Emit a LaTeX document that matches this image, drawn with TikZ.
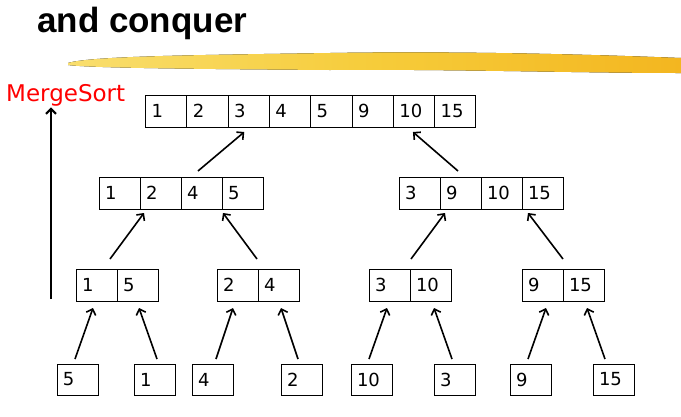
\documentclass[tikz,border=0pt]{standalone}
\usepackage{fontspec}
\setmainfont{DejaVu Sans}
\newfontfamily\titlefont{Liberation Sans}
\usetikzlibrary{arrows.meta,positioning}

\definecolor{brushA}{HTML}{F9DE6E}
\definecolor{brushB}{HTML}{F6CC3A}
\definecolor{brushC}{HTML}{F3B620}

\tikzset{
  cell/.style={draw, line width=1pt, outer sep=0pt, minimum height=32pt,
    inner xsep=6pt, inner ysep=0pt, text width=29pt, align=left,
    font=\fontsize{18}{18}\selectfont},
  topcell/.style={cell, text width=29.3pt},
  arr/.style={-{Straight Barb[length=5pt,width=10pt]}, line width=1.6pt}
}

\begin{document}
\begin{tikzpicture}[x=1pt,y=-1pt]
\useasboundingbox (0,0) rectangle (681,416);

% Title and brush stroke
\node[anchor=base west, inner sep=0pt, font=\titlefont\bfseries\fontsize{35}{40}\selectfont] (title) at (37,32) {and conquer};
\fill[left color=brushA, right color=brushC, middle color=brushB]
  (68,63) .. controls (90,56) and (200,55) .. (330,53)
  .. controls (450,51) and (580,54) .. (681,58) -- (681,73)
  .. controls (580,73) and (450,69) .. (330,70)
  .. controls (200,69) and (90,68) .. (68,65) -- cycle;

% MergeSort direction
\node[anchor=base west, inner sep=0pt, text=red, font=\fontsize{23}{23}\selectfont] (ms) at (6,101) {MergeSort};
\coordinate (msfoot) at (51,299);
\draw[arr, line width=2pt, shorten >=1.5pt] (msfoot) -- (msfoot |- ms.south);

% Merged arrays
\foreach \v [count=\i] in {1,2,3,4,5,9,10,15}
  \node[topcell] (top\i) at ({145.5+41.3*(\i-0.5)},111) {\v};
\foreach \v [count=\i] in {1,2,4,5}
  \node[cell] (midL\i) at ({99+41*(\i-0.5)},193) {\v};
\foreach \v [count=\i] in {3,9,10,15}
  \node[cell] (midR\i) at ({399+41*(\i-0.5)},193) {\v};
\foreach \n/\x/\p/\q in {lowA/76/1/5, lowB/217/2/4, lowC/369/3/10, lowD/522/9/15} {
  \node[cell] (\n1) at (\x+20.5,285) {\p};
  \node[cell] (\n2) at (\x+61.5,285) {\q};
}

% Single elements
\foreach \x/\v [count=\i] in {57/5, 134/1, 192/4, 281/2, 351/10, 434/3, 510/9, 593/15}
  \node[cell, minimum height=31pt] (leaf\i) at (\x+20.5,379.5) {\v};

% Merge arrows
\foreach \s/\t/\a/\b in {leaf1/lowA1/-2.5/-3.5, leaf2/lowA2/2.5/1.5, leaf3/lowB1/3.5/-4.5, leaf4/lowB2/-3.5/2.5,
    leaf5/lowC1/-2.5/-2.5, leaf6/lowC2/-2.5/3.5, leaf7/lowD1/-2.5/3.5, leaf8/lowD2/-8.5/3.5}
  \draw[arr] ([xshift=\a,yshift=5pt]\s.north) -- ([xshift=\b,yshift=-7pt]\t.south);
\foreach \s/\t/\a/\b in {lowA1/midL1/-7/4, lowB1/midL3/-1/1, lowC1/midR1/1/5, lowD1/midR3/0/6}
  \draw[arr] ([xshift=\a,yshift=10pt]\s.north east) -- ([xshift=\b,yshift=-4pt]\t.south east);
\draw[arr] ([xshift=17,yshift=6pt]midL2.north east) -- ([xshift=-4.5,yshift=-5pt]top3.south);
\draw[arr] ([xshift=-23,yshift=6pt]midR2.north east) -- ([xshift=-1,yshift=-5pt]top7.south);
\end{tikzpicture}
\end{document}
